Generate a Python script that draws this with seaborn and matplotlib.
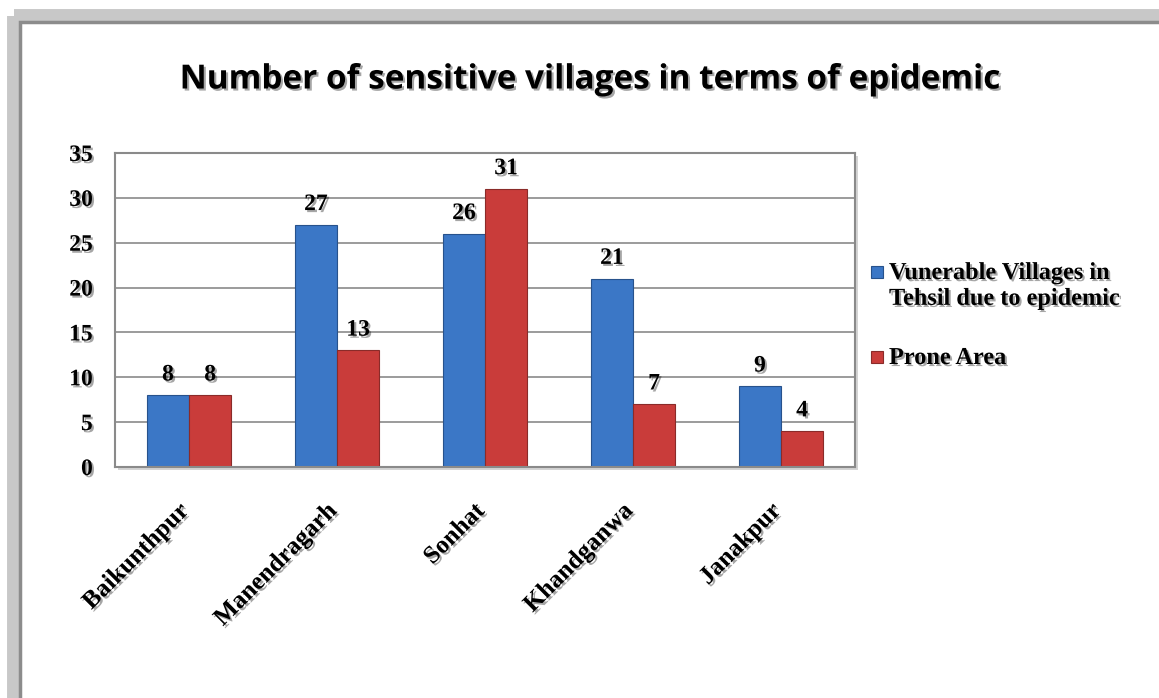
import matplotlib
matplotlib.use("Agg")
import matplotlib.pyplot as plt
import matplotlib.patheffects as pe
import matplotlib.transforms as mtransforms
from matplotlib.patches import Rectangle
import pandas as pd
import seaborn as sns

tehsils = ["Baikunthpur", "Manendragarh", "Sonhat", "Khandganwa", "Janakpur"]
vulnerable = [8, 27, 26, 21, 9]
prone = [8, 13, 31, 7, 4]
series_names = ["Vunerable Villages in\nTehsil due to epidemic", "Prone Area"]
colors = ["#3b77c6", "#c93c3a"]
edge_colors = ["#27528c", "#8a2b29"]
y_ticks = [0, 5, 10, 15, 20, 25, 30, 35]

df = pd.DataFrame({
    "Tehsil": tehsils * 2,
    "Villages": vulnerable + prone,
    "Series": [series_names[0]] * len(tehsils) + [series_names[1]] * len(tehsils),
})

sns.set_theme(style="white")
plt.rcParams["font.family"] = ["Liberation Serif", "DejaVu Serif"]
plt.rcParams["text.color"] = "black"

shadow = [pe.SimplePatchShadow(offset=(1.5, -1.5), alpha=0.35), pe.Normal()]

fig = plt.figure(figsize=(11.59, 6.98), dpi=100)
fig.patch.set_facecolor("white")

# outer chart frame with shadow (background axes in pixel coords)
bg = fig.add_axes([0, 0, 1, 1], zorder=0)
bg.set_xlim(0, 1159)
bg.set_ylim(698, 0)
bg.axis("off")
bg.add_patch(Rectangle((14, 16), 1160, 700, facecolor="none", edgecolor="#c8c8c8", lw=10))
bg.add_patch(Rectangle((20, 22), 1150, 690, facecolor="white", edgecolor="#8c8c8c", lw=2.5))
# soft shadow behind plot area
bg.add_patch(Rectangle((118, 156), 740, 314, facecolor="#b8b8b8", edgecolor="none", alpha=0.6))

ax = fig.add_axes([115 / 1159, 1 - 467 / 698, 740 / 1159, 314 / 698], zorder=2)

sns.barplot(data=df, x="Tehsil", y="Villages", hue="Series",
            palette=colors, width=0.57, saturation=1,
            linewidth=0.8, ax=ax, legend=False)

for cont, ec in zip(ax.containers, edge_colors):
    for bar in cont:
        bar.set_edgecolor(ec)
    ax.bar_label(cont, padding=7, fontsize=17, fontweight="bold", path_effects=shadow)

ax.set_ylim(0, 35)
ax.set_yticks(y_ticks)
ax.yaxis.grid(True, color="#8a8a8a", lw=1.2)
ax.set_axisbelow(True)
ax.set_facecolor("white")
ax.set_xlabel("")
ax.set_ylabel("")
for s in ax.spines.values():
    s.set_color("#8a8a8a")
    s.set_linewidth(1.5)

ax.tick_params(axis="y", labelsize=17, pad=16, length=0, labelcolor="black")
ax.tick_params(axis="x", labelsize=18, pad=29, length=0, labelcolor="black")
for lab in ax.get_yticklabels():
    lab.set_fontweight("bold")
    lab.set_path_effects(shadow)
shift = mtransforms.ScaledTranslation(-4 / 100, 0, fig.dpi_scale_trans)
for lab in ax.get_xticklabels():
    lab.set_fontweight("bold")
    lab.set_rotation(45)
    lab.set_ha("right")
    lab.set_va("center")
    lab.set_rotation_mode("anchor")
    lab.set_transform(lab.get_transform() + shift)
    lab.set_path_effects(shadow)

# legend: square markers with bold labels
legend_y = [272, 357]
for name, col, ec, y in zip(series_names, colors, edge_colors, legend_y):
    bg.add_patch(Rectangle((871, y - 6), 12, 12, facecolor=col, edgecolor=ec, lw=0.8))
    bg.text(889, y - 9, name, ha="left", va="top", fontsize=17.5, fontweight="bold",
            linespacing=1.3, path_effects=shadow)

fig.text(590 / 1159, 1 - 80 / 698, "Number of sensitive villages in terms of epidemic",
         ha="center", va="center", fontsize=24, fontweight="bold", color="black",
         family=["Open Sans", "DejaVu Sans"], path_effects=shadow, zorder=3)

fig.savefig("out.png", dpi=100)
